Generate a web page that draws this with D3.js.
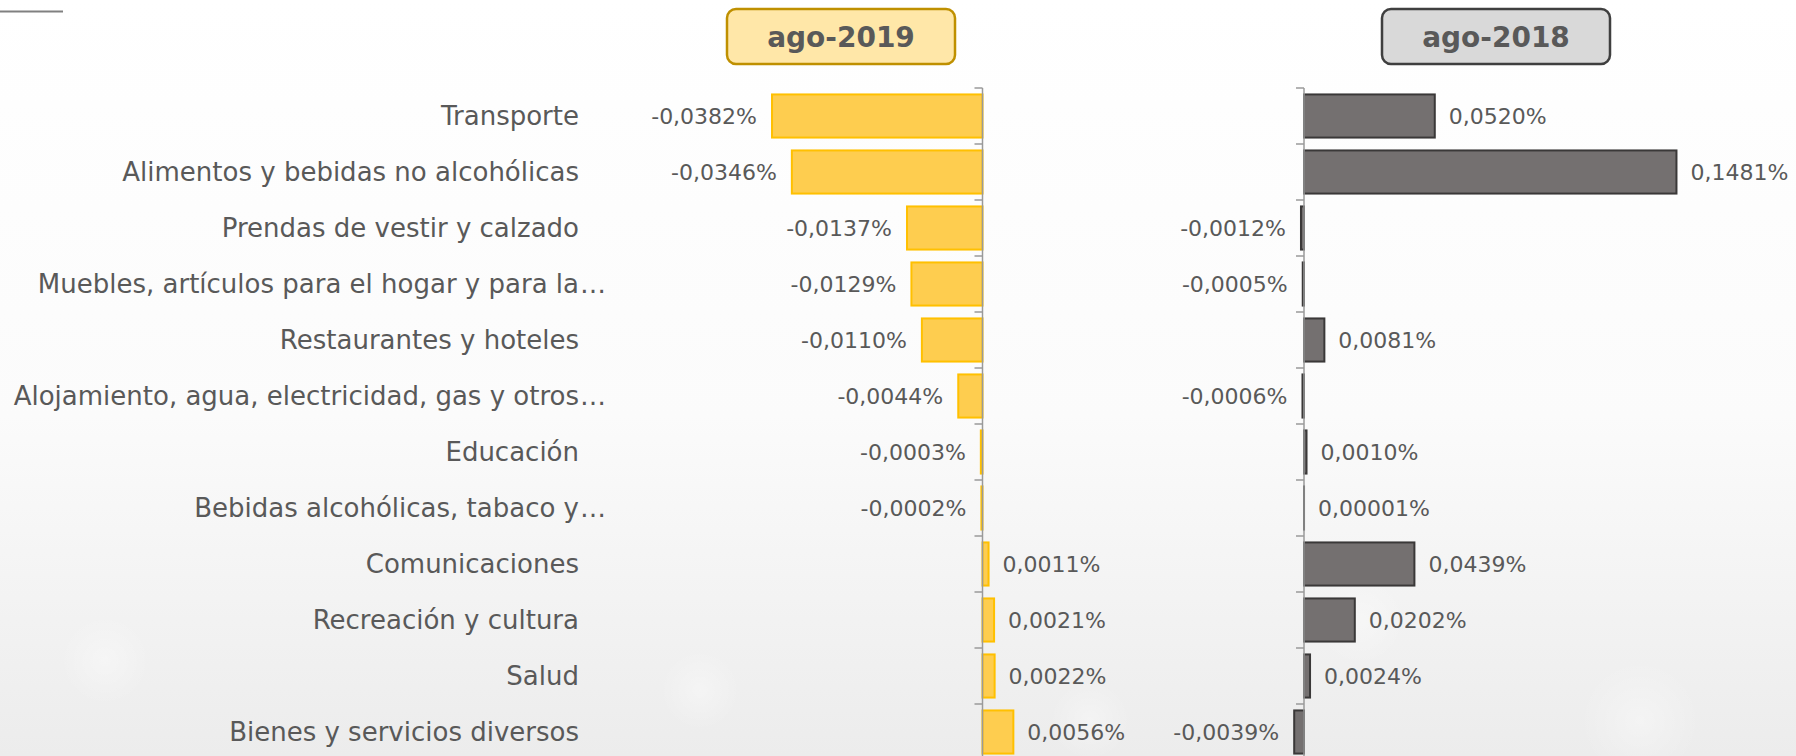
<!DOCTYPE html>
<html>
<head>
<meta charset="utf-8">
<script src="https://cdn.jsdelivr.net/npm/d3@7"></script>
<style>
  html, body { margin: 0; padding: 0; background: #fff; }
  svg { display: block; font-family: "DejaVu Sans", sans-serif; }
</style>
</head>
<body>
<div id="chart"></div>
<script>
// categorias (en el orden del grafico, de arriba abajo)
const categories = [
  'Transporte',
  'Alimentos y bebidas no alcohólicas',
  'Prendas de vestir y calzado',
  'Muebles, artículos para el hogar y para la…',
  'Restaurantes y hoteles',
  'Alojamiento, agua, electricidad, gas y otros…',
  'Educación',
  'Bebidas alcohólicas, tabaco y…',
  'Comunicaciones',
  'Recreación y cultura',
  'Salud',
  'Bienes y servicios diversos'
];
// incidencias en %
const values2019 = [-0.0382, -0.0346, -0.0137, -0.0129, -0.0110, -0.0044, -0.0003, -0.0002, 0.0011, 0.0021, 0.0022, 0.0056];
const values2018 = [0.0520, 0.1481, -0.0012, -0.0005, 0.0081, -0.0006, 0.0010, 0.00001, 0.0439, 0.0202, 0.0024, -0.0039];
const panelTitles = ['ago-2019', 'ago-2018'];

const W = 1796, H = 756;
const svg = d3.select('#chart').append('svg').attr('width', W).attr('height', H);

// fondo
const defs = svg.append('defs');
const bg = defs.append('linearGradient').attr('id','bg').attr('x1',0).attr('y1',0).attr('x2',0).attr('y2',1);
bg.append('stop').attr('offset','0%').attr('stop-color','#ffffff');
bg.append('stop').attr('offset','55%').attr('stop-color','#fbfbfb');
bg.append('stop').attr('offset','100%').attr('stop-color','#ececec');
const glow = defs.append('radialGradient').attr('id','glow');
glow.append('stop').attr('offset','0%').attr('stop-color','#ffffff').attr('stop-opacity',0.35);
glow.append('stop').attr('offset','100%').attr('stop-color','#ffffff').attr('stop-opacity',0);
svg.append('rect').attr('width',W).attr('height',H).attr('fill','url(#bg)');
[[105,660,45],[700,690,40],[1090,720,40],[1360,620,45],[1640,720,60]].forEach(c=>{
  svg.append('circle').attr('cx',c[0]).attr('cy',c[1]).attr('r',c[2]).attr('fill','url(#glow)');
});
svg.append('line').attr('x1',0).attr('x2',63).attr('y1',11.5).attr('y2',11.5)
  .attr('stroke','#808080').attr('stroke-width',2);

const y = d3.scaleBand().domain(categories).range([88, 760]).paddingInner(0.23).paddingOuter(0.115);

const panels = [
  { title: panelTitles[0], values: values2019, x: d3.scaleLinear().domain([-0.04, 0.01]).range([762.1, 1037.6]),
    fill:'#FECD4F', stroke:'#FFC000', boxFill:'#FFE7A8', boxStroke:'#BF9000', box:[727, 9, 228, 55] },
  { title: panelTitles[1], values: values2018, x: d3.scaleLinear().domain([-0.01, 0.16]).range([1278.85, 1706.4]),
    fill:'#747070', stroke:'#3A3838', boxFill:'#D9D9D9', boxStroke:'#3F3F3F', box:[1382, 9, 228, 55] }
];

const fmt = v => (Math.abs(v) < 0.0001 ? v.toFixed(5) : v.toFixed(4)).replace('.', ',') + '%';
const txtColor = '#595959';

// etiquetas de categorias
const lab = svg.append('g').attr('font-size', 26).attr('fill', txtColor);
categories.forEach(c => {
  const yc = y(c) + y.bandwidth()/2;
  const cut = c.endsWith('…');
  lab.append('text').attr('x', 579).attr('y', yc).attr('dy','0.35em').attr('text-anchor','end')
    .text(cut ? c.slice(0, -1) : c);
  if (cut) lab.append('text').attr('x', 580).attr('y', yc).attr('dy','0.35em').text('…');
});

panels.forEach(p => {
  const g = svg.append('g');
  const x0 = p.x(0);
  const data = categories.map((c,i) => ({c, v:p.values[i]}));

  g.selectAll('rect.bar').data(data).enter().append('rect').attr('class','bar')
    .attr('x', d => Math.min(p.x(d.v), x0))
    .attr('y', d => y(d.c))
    .attr('width', d => Math.abs(p.x(d.v) - x0))
    .attr('height', y.bandwidth())
    .attr('fill', p.fill).attr('stroke', p.stroke).attr('stroke-width', 2);

  // eje vertical con marcas entre categorias
  const bounds = categories.map(c => y(c) - y.step()*y.paddingInner()/2);
  bounds.push(760);
  g.append('line').attr('x1',x0).attr('x2',x0).attr('y1',88).attr('y2',760)
    .attr('stroke','#9a9a9a').attr('stroke-width',1.5);
  g.selectAll('line.tick').data(bounds).enter().append('line').attr('class','tick')
    .attr('x1',x0-8).attr('x2',x0).attr('y1',d=>d).attr('y2',d=>d)
    .attr('stroke','#9a9a9a').attr('stroke-width',1.5);

  g.selectAll('text.val').data(data).enter().append('text').attr('class','val')
    .attr('x', d => d.v < 0 ? p.x(d.v) - 15 : p.x(d.v) + 14)
    .attr('y', d => y(d.c) + y.bandwidth()/2)
    .attr('dy','0.35em')
    .attr('text-anchor', d => d.v < 0 ? 'end' : 'start')
    .attr('font-size', 22).attr('fill', txtColor)
    .text(d => fmt(d.v));

  // caja del titulo
  const [bx, by, bw, bh] = p.box;
  g.append('rect').attr('x',bx).attr('y',by).attr('width',bw).attr('height',bh).attr('rx',9)
    .attr('fill',p.boxFill).attr('stroke',p.boxStroke).attr('stroke-width',2.5);
  g.append('text').attr('x',bx+bw/2).attr('y',by+bh/2).attr('dy','0.36em').attr('text-anchor','middle')
    .attr('font-size',28).attr('font-weight','bold').attr('fill',txtColor).text(p.title);
});
</script>
</body>
</html>
